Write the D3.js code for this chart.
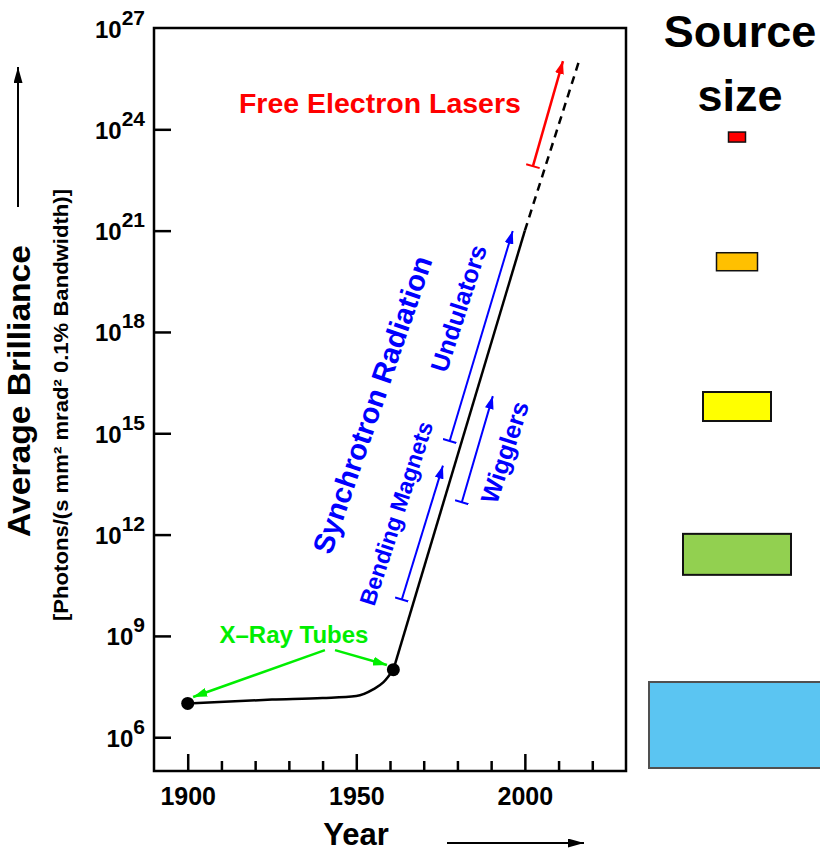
<!DOCTYPE html>
<html>
<head>
<meta charset="utf-8">
<script src="https://cdn.jsdelivr.net/npm/d3@7"></script>
<style>
  body { margin: 0; background: #fff; }
  svg { display: block; }
  text { font-family: "Liberation Sans", Arial, Helvetica, sans-serif; }
</style>
</head>
<body>
<div class="canvas"></div>
<script>
// values.
const tubeYears = [1900, 1925, 1940, 1950, 1955, 1958, 1961];
const tubeBrilliance = [1.0e7, 1.3e7, 1.45e7, 1.66e7, 2.6e7, 4.2e7, 1.0e8];
const synchrotronYears = [1961, 2000];
const synchrotronBrilliance = [1.0e8, 1.0e21];
const felYears = [2000, 2016];
const felBrilliance = [1.0e21, 1.0e26];
const dotYears = [1900, 1961];
const dotBrilliance = [1.0e7, 1.0e8];

const yTickExponents = [6, 9, 12, 15, 18, 21, 24, 27];
const xTickYears = [1900, 1910, 1920, 1930, 1940, 1950, 1960, 1970, 1980, 1990, 2000, 2010, 2020];
const xTickLabels = [1900, 1950, 2000];

// source ranges: [year, brilliance] at start and end of each arrow.
const rangeNames = ['Bending Magnets', 'Undulators', 'Wigglers', 'Free Electron Lasers'];
const rangeStart = [[1963.5, 1.2e10], [1977.7, 5.9e14], [1981.3, 9.1e12], [2002.4, 8.1e22]];
const rangeEnd = [[1975.7, 1.1e14], [1996.4, 9.8e20], [1990.5, 1.26e16], [2011.3, 1.05e26]];

// x-ray tube pointers: [year, brilliance].
const tubeArrowStart = [[1940.7, 3.8e8], [1943.7, 3.8e8]];
const tubeArrowEnd = [[1901.6, 1.55e7], [1959.1, 1.38e8]];

// source size boxes (pixels) and the brilliance level they sit at.
const sourceNames = ['FEL', 'Undulator', 'Wiggler', 'Bending magnet', 'X-ray tube'];
const sourceWidths = [17, 41, 68, 108, 176];
const sourceHeights = [10, 18, 29, 41, 86];
const sourceLevels = [5.9e23, 1.2e20, 6.2e15, 2.6e11, 2.3e6];
const sourceColors = ['#ff0000', '#ffc000', '#ffff00', '#92d050', '#5bc5f2'];

// dimensions.
const svgDimensions = { width: 820, height: 851 };
const frame = { left: 154, right: 626, top: 28, bottom: 771 };

const svg = d3.select('.canvas')
    .append('svg')
        .attr('width', svgDimensions.width)
        .attr('height', svgDimensions.height);

const x = d3.scaleLinear().domain([1890, 2030]).range([frame.left, frame.right]);
const y = d3.scaleLog().domain([1e5, 1e27]).range([frame.bottom, frame.top]);

// markers.
const defs = svg.append('defs');
const addArrow = (id, color, len, wid) => {
    defs.append('marker')
        .attr('id', id)
        .attr('viewBox', `0 0 ${len} ${wid}`)
        .attr('refX', len).attr('refY', wid / 2)
        .attr('markerWidth', len).attr('markerHeight', wid)
        .attr('markerUnits', 'userSpaceOnUse')
        .attr('orient', 'auto')
      .append('path')
        .attr('d', `M0,0L${len},${wid / 2}L0,${wid}Z`)
        .attr('fill', color);
};
const addBar = (id, color, size) => {
    defs.append('marker')
        .attr('id', id)
        .attr('viewBox', `0 0 4 ${size}`)
        .attr('refX', 2).attr('refY', size / 2)
        .attr('markerWidth', 4).attr('markerHeight', size)
        .attr('markerUnits', 'userSpaceOnUse')
        .attr('orient', 'auto')
      .append('path')
        .attr('d', `M2,0L2,${size}`)
        .attr('stroke', color)
        .attr('stroke-width', 2);
};
addArrow('arrowBlack', '#000', 16, 9);
addArrow('arrowBlue', '#0000ff', 13, 9);
addArrow('arrowRed', '#ff0000', 13, 9);
addArrow('arrowGreen', '#00ee00', 14, 9);
addBar('barBlue', '#0000ff', 14);
addBar('barRed', '#ff0000', 14);

// y axis.
const yAxis = d3.axisLeft(y)
    .tickValues(yTickExponents.map(e => Math.pow(10, e)))
    .tickSizeInner(-17)
    .tickSizeOuter(0)
    .tickPadding(10);

const yAxisGroup = svg.append('g')
    .attr('transform', `translate(${frame.left},0)`)
    .call(yAxis);
yAxisGroup.select('.domain').remove();
yAxisGroup.selectAll('.tick line')
    .attr('stroke', '#000')
    .attr('stroke-width', 2.5)
    .attr('opacity', (d, i) => yTickExponents[i] === 27 ? 0 : 1);
yAxisGroup.selectAll('.tick text').each(function(d, i) {
    const t = d3.select(this)
        .text(null)
        .attr('x', -9)
        .attr('dy', 9)
        .attr('font-size', 24)
        .attr('font-weight', 'bold')
        .attr('fill', '#000')
        .attr('font-family', '"Liberation Sans", Arial, sans-serif');
    t.append('tspan').text('10');
    t.append('tspan').attr('dy', -13).attr('font-size', 21).text(yTickExponents[i]);
});

// x axis.
const xAxis = d3.axisBottom(x)
    .tickValues(xTickYears)
    .tickSizeInner(-10)
    .tickSizeOuter(0)
    .tickPadding(16)
    .tickFormat(d => xTickLabels.includes(d) ? d : '');

const xAxisGroup = svg.append('g')
    .attr('transform', `translate(0,${frame.bottom})`)
    .call(xAxis);
xAxisGroup.select('.domain').remove();
xAxisGroup.selectAll('.tick line')
    .attr('stroke', '#000')
    .attr('stroke-width', 2.5)
    .attr('y2', d => xTickLabels.includes(d) ? -17 : -10);
xAxisGroup.selectAll('.tick text')
    .attr('font-size', 25)
    .attr('font-weight', 'bold')
    .attr('fill', '#000')
    .attr('font-family', '"Liberation Sans", Arial, sans-serif');

// frame.
svg.append('rect')
    .attr('x', frame.left)
    .attr('y', frame.top)
    .attr('width', frame.right - frame.left)
    .attr('height', frame.bottom - frame.top)
    .attr('fill', 'none')
    .attr('stroke', '#000')
    .attr('stroke-width', 2.5);

// axis titles.
svg.append('text')
    .attr('transform', 'translate(30,391) rotate(-90)')
    .attr('text-anchor', 'middle')
    .attr('font-size', 32)
    .attr('font-weight', 'bold')
    .attr('textLength', 292)
    .attr('lengthAdjust', 'spacingAndGlyphs')
    .text('Average Brilliance');

svg.append('text')
    .attr('transform', 'translate(68,405) rotate(-90)')
    .attr('text-anchor', 'middle')
    .attr('font-size', 20)
    .attr('font-weight', 'bold')
    .attr('textLength', 432)
    .attr('lengthAdjust', 'spacingAndGlyphs')
    .text('[Photons/(s mm\u00b2 mrad\u00b2 0.1% Bandwidth)]');

svg.append('line')
    .attr('x1', 18).attr('y1', 207)
    .attr('x2', 18).attr('y2', 67)
    .attr('stroke', '#000')
    .attr('stroke-width', 2)
    .attr('marker-end', 'url(#arrowBlack)');

svg.append('text')
    .attr('x', 356)
    .attr('y', 845)
    .attr('text-anchor', 'middle')
    .attr('font-size', 31)
    .attr('font-weight', 'bold')
    .text('Year');

svg.append('line')
    .attr('x1', 447).attr('y1', 843)
    .attr('x2', 584).attr('y2', 843)
    .attr('stroke', '#000')
    .attr('stroke-width', 2)
    .attr('marker-end', 'url(#arrowBlack)');

// brilliance curve.
const line = d3.line()
    .x(d => x(d[0]))
    .y(d => y(d[1]));

svg.append('path')
    .attr('d', line.curve(d3.curveMonotoneX)(d3.zip(tubeYears, tubeBrilliance)))
    .attr('fill', 'none')
    .attr('stroke', '#000')
    .attr('stroke-width', 2.5);

svg.append('path')
    .attr('d', line.curve(d3.curveLinear)(d3.zip(synchrotronYears, synchrotronBrilliance)))
    .attr('fill', 'none')
    .attr('stroke', '#000')
    .attr('stroke-width', 2.5);

svg.append('path')
    .attr('d', line(d3.zip(felYears, felBrilliance)))
    .attr('fill', 'none')
    .attr('stroke', '#000')
    .attr('stroke-width', 2.5)
    .attr('stroke-dasharray', '8,6');

svg.selectAll('circle.dot')
    .data(d3.zip(dotYears, dotBrilliance))
    .enter()
    .append('circle')
        .attr('class', 'dot')
        .attr('cx', d => x(d[0]))
        .attr('cy', d => y(d[1]))
        .attr('r', 6.5)
        .attr('fill', '#000');

// source range arrows.
svg.selectAll('line.range')
    .data(rangeNames)
    .enter()
    .append('line')
        .attr('class', 'range')
        .attr('x1', (d, i) => x(rangeStart[i][0]))
        .attr('y1', (d, i) => y(rangeStart[i][1]))
        .attr('x2', (d, i) => x(rangeEnd[i][0]))
        .attr('y2', (d, i) => y(rangeEnd[i][1]))
        .attr('stroke', d => d === 'Free Electron Lasers' ? '#ff0000' : '#0000ff')
        .attr('stroke-width', d => d === 'Free Electron Lasers' ? 2.5 : 2)
        .attr('marker-start', d => d === 'Free Electron Lasers' ? 'url(#barRed)' : 'url(#barBlue)')
        .attr('marker-end', d => d === 'Free Electron Lasers' ? 'url(#arrowRed)' : 'url(#arrowBlue)');

// x-ray tube pointers.
svg.selectAll('line.tube')
    .data(tubeArrowStart)
    .enter()
    .append('line')
        .attr('class', 'tube')
        .attr('x1', d => x(d[0]))
        .attr('y1', d => y(d[1]))
        .attr('x2', (d, i) => x(tubeArrowEnd[i][0]))
        .attr('y2', (d, i) => y(tubeArrowEnd[i][1]))
        .attr('stroke', '#00ee00')
        .attr('stroke-width', 2.5)
        .attr('marker-end', 'url(#arrowGreen)');

// annotation labels, placed in data space.
const labels = [
    { text: 'Free Electron Lasers', year: 1957, value: 3.0e24, angle: 0, color: '#ff0000', size: 28.5 },
    { text: 'X\u2013Ray Tubes', year: 1931.5, value: 6.2e8, angle: 0, color: '#00ee00', size: 24 },
    { text: 'Synchrotron Radiation', year: 1957.6, value: 5.6e15, angle: -71, color: '#0000ff', size: 29 },
    { text: 'Bending Magnets', year: 1964.1, value: 3.6e12, angle: -72, color: '#0000ff', size: 23 },
    { text: 'Undulators', year: 1982.8, value: 4.2e18, angle: -72, color: '#0000ff', size: 25 },
    { text: 'Wigglers', year: 1996.5, value: 2.3e14, angle: -72, color: '#0000ff', size: 25 }
];

svg.selectAll('text.label')
    .data(labels)
    .enter()
    .append('text')
        .attr('class', 'label')
        .attr('transform', d => `translate(${x(d.year)},${y(d.value)}) rotate(${d.angle})`)
        .attr('text-anchor', 'middle')
        .attr('font-size', d => d.size)
        .attr('font-weight', 'bold')
        .attr('fill', d => d.color)
        .text(d => d.text);

// source size panel.
const panel = svg.append('g');

panel.append('text')
    .attr('x', 740).attr('y', 47)
    .attr('text-anchor', 'middle')
    .attr('font-family', '"Open Sans", sans-serif')
    .attr('font-size', 45)
    .attr('font-weight', 'bold')
    .text('Source');

panel.append('text')
    .attr('x', 740).attr('y', 111)
    .attr('text-anchor', 'middle')
    .attr('font-family', '"Open Sans", sans-serif')
    .attr('font-size', 45)
    .attr('font-weight', 'bold')
    .text('size');

panel.selectAll('rect')
    .data(sourceNames)
    .enter()
    .append('rect')
        .attr('x', (d, i) => 737 - sourceWidths[i] / 2)
        .attr('y', (d, i) => y(sourceLevels[i]) - sourceHeights[i] / 2)
        .attr('width', (d, i) => sourceWidths[i])
        .attr('height', (d, i) => sourceHeights[i])
        .attr('fill', (d, i) => sourceColors[i])
        .attr('stroke', (d, i) => i === 4 ? '#505050' : '#111')
        .attr('stroke-width', (d, i) => i < 2 ? 1.5 : 2);
</script>
</body>
</html>
